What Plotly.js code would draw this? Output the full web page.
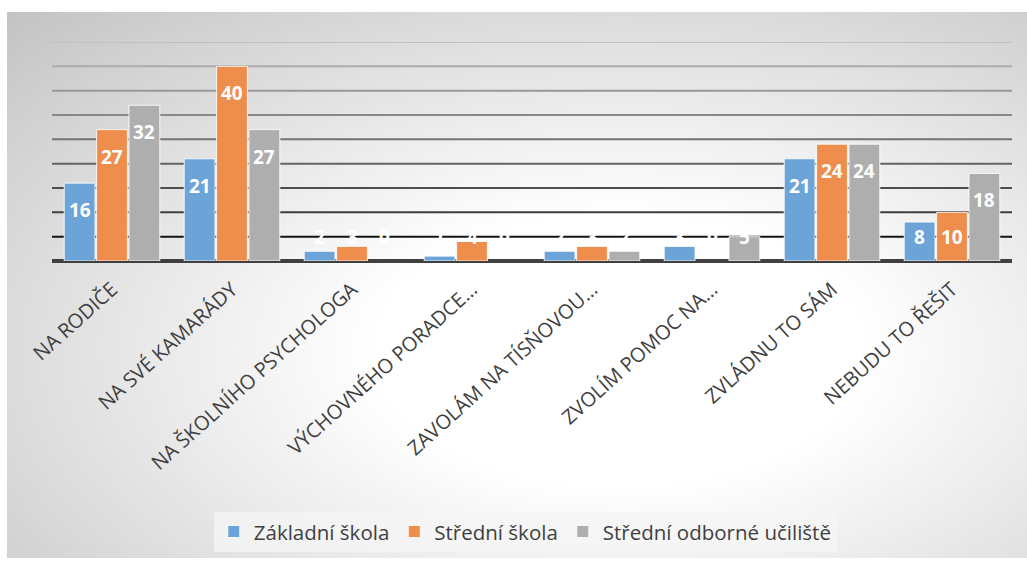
<!DOCTYPE html>
<html>
<head>
<meta charset="utf-8">
<script src="https://cdn.plot.ly/plotly-3.0.1.min.js"></script>
<style>
  html, body { margin: 0; padding: 0; background: #ffffff; }
  #wrap { position: relative; width: 1027px; height: 562px; }
  #bg { position: absolute; left: 7px; top: 12px; width: 1020px; height: 546px;
        background: radial-gradient(ellipse farthest-corner at 60% 62%, #ffffff 0%, #ffffff 28%, #c3c3c3 100%); }
  #chart { position: absolute; left: 0; top: 0; width: 1027px; height: 562px; }
</style>
</head>
<body>
<div id="wrap"><div id="bg"></div><div id="chart"></div></div>
<script>
const categories = [
  "NA RODIČE",
  "NA SVÉ KAMARÁDY",
  "NA ŠKOLNÍHO PSYCHOLOGA",
  "VÝCHOVNÉHO PORADCE…",
  "ZAVOLÁM NA TÍSŇOVOU…",
  "ZVOLÍM POMOC NA…",
  "ZVLÁDNU TO SÁM",
  "NEBUDU TO ŘEŠIT"
];
const seriesNames = ["Základní škola", "Střední škola", "Střední odborné učiliště"];
const zakladniSkola = [16, 21, 2, 1, 2, 3, 21, 8];
const stredniSkola = [27, 40, 3, 4, 3, 0, 24, 10];
const stredniOdborneUciliste = [32, 27, 0, 0, 2, 5, 24, 18];
const colors = ["rgb(108,164,216)", "rgb(238,141,76)", "rgb(174,174,174)"];

// gridline shades from the bottom line (5) to the top line (45)
const gridTicks = [5, 10, 15, 20, 25, 30, 35, 40, 45];
const gridShades = ["#141414", "#3e3e3e", "#4e4e4e", "#636363", "#737373", "#888888", "#999999", "#ababab", "#c0c0c0"];

const font = "'Open Sans', 'Noto Sans', sans-serif";
const allSeries = [zakladniSkola, stredniSkola, stredniOdborneUciliste];

const Y_MAX = 45;
const BARGAP = 0.19;
const MARGIN = { l: 52, r: 15, t: 42, b: 300 };
const H = 562, W = 1027;
const plotH = H - MARGIN.t - MARGIN.b;
const pxPerUnit = plotH / Y_MAX;
const slot = (1 - BARGAP) / allSeries.length;

const traces = allSeries.map((vals, i) => ({
  type: "bar",
  name: seriesNames[i],
  x: categories,
  y: vals,
  marker: { color: colors[i], line: { color: "rgba(255,255,255,0.85)", width: vals.map(v => v > 0 ? 1 : 0) } },
  hoverinfo: "x+y+name"
}));

// data labels, Excel "inside end" look: ~27px under the bar top, never lower than ~24px above the axis
const annotations = [];
allSeries.forEach((vals, j) => {
  vals.forEach((v, i) => {
    const barPx = v * pxPerUnit;
    annotations.push({
      x: i + (j - (allSeries.length - 1) / 2) * slot,
      y: v,
      xref: "x", yref: "y",
      text: String(v),
      showarrow: false,
      xanchor: "center",
      yanchor: "middle",
      yshift: -Math.min(27, barPx - 24),
      font: { color: "#ffffff", size: 19, family: font, weight: "bold" }
    });
  });
});

// shaded horizontal gridlines, placed on the y axis values, below the bars
const gridShapes = gridTicks.map((t, k) => ({
  type: "line",
  xref: "paper", yref: "y",
  x0: 0, x1: 1, y0: t, y1: t,
  layer: "below",
  line: { color: gridShades[k], width: 2 }
}));

const layout = {
  width: W,
  height: H,
  margin: MARGIN,
  paper_bgcolor: "rgba(0,0,0,0)",
  plot_bgcolor: "rgba(0,0,0,0)",
  barmode: "group",
  bargap: BARGAP,
  bargroupgap: 0.05,
  showlegend: true,
  annotations: annotations,
  shapes: gridShapes,
  legend: {
    orientation: "h",
    x: 0.493, xanchor: "center",
    y: -1.135, yanchor: "top",
    bgcolor: "rgba(245,245,245,0.75)",
    font: { family: font, size: 20.5, color: "#404040" },
    itemwidth: 30,
    traceorder: "normal"
  },
  xaxis: {
    type: "category",
    range: [-0.5, categories.length - 0.5],
    tickangle: -42,
    tickfont: { family: font, size: 20, color: "#404040" },
    ticks: "",
    ticklabelstandoff: 12,
    showline: false,
    showgrid: false,
    fixedrange: true
  },
  yaxis: {
    range: [0, Y_MAX],
    showticklabels: false,
    ticks: "",
    showgrid: false,
    zeroline: true,
    zerolinecolor: "#404040",
    zerolinewidth: 4,
    showline: false,
    fixedrange: true
  }
};

Plotly.newPlot("chart", traces, layout, { displayModeBar: false, staticPlot: true });
</script>
</body>
</html>
